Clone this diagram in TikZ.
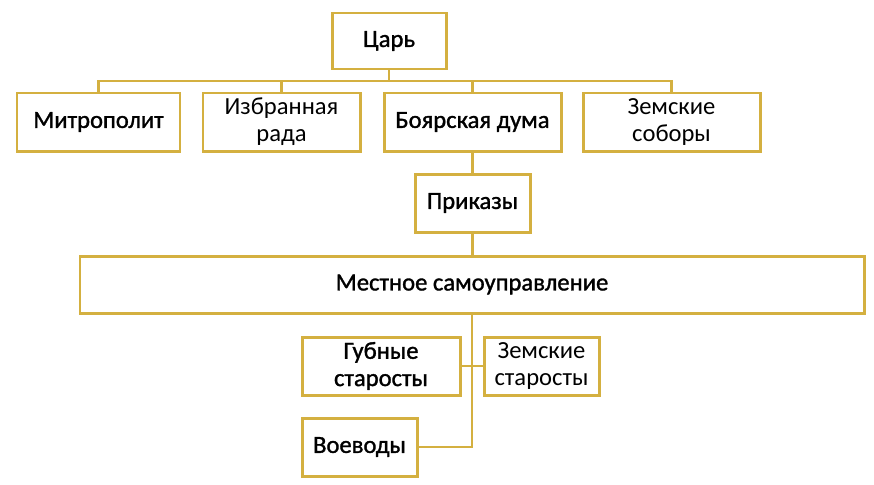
\documentclass[tikz,border=0pt]{standalone}
\usepackage{fontspec}
\setmainfont{Carlito}
\newfontfamily\heavyfont[FakeBold=1.3]{Carlito}
\usepackage{xcolor}
\usetikzlibrary{positioning}
\definecolor{gold}{RGB}{212,176,64}

\begin{document}
\begin{tikzpicture}[
    x=0.02cm, y=-0.02cm,
    box/.style={rectangle, draw=gold, line width=1.7pt, fill=white, align=center, inner sep=2pt, minimum height=58*0.02cm, font=\fontsize{14}{15.5}\selectfont},
    heavy/.style={box, font=\fontsize{14}{15.5}\selectfont\heavyfont},
    link/.style={draw=gold, line width=1.5pt},
]
\useasboundingbox (0,0) rectangle (874,484);

\node[heavy, minimum width=114*0.02cm, minimum height=56*0.02cm] (tsar) at (389,41) {Царь};
\node[heavy, minimum width=163*0.02cm] (metro) at (98.5,122) {Митрополит};
\node[box, minimum width=157*0.02cm] (rada) at (281.5,122) {Избранная\\рада};
\node[heavy, minimum width=177*0.02cm] (duma) at (472.5,122) {Боярская дума};
\node[box, minimum width=177*0.02cm] (sobory) at (671.5,122) {Земские\\соборы};
\node[heavy, minimum width=115*0.02cm] (prikazy) at (472.5,203) {Приказы};
\node[heavy, minimum width=784*0.02cm, minimum height=57*0.02cm] (mestnoe) at (472,284.5) {Местное самоуправление};
\node[heavy, minimum width=158*0.02cm] (gubnye) at (381,366) {Губные\\старосты};
\node[box, minimum width=115*0.02cm] (zemstar) at (541.5,366) {Земские\\старосты};
\node[heavy, minimum width=115*0.02cm] (voevody) at (359.5,447) {Воеводы};

\coordinate (bus) at (0,81);

\draw[link] (tsar.south) -- (tsar.south |- bus);
\draw[link] (metro.north) |- (bus -| sobory.north) -- (sobory.north);
\draw[link] (rada.north) -- (rada.north |- bus);
\draw[link] (duma.north) -- (duma.north |- bus);
\draw[link] (duma) -- (prikazy);
\draw[link] (prikazy.south) -- (prikazy.south |- mestnoe.north);
\draw[link] (mestnoe.south) |- (voevody.east);
\draw[link] (gubnye.east) -- (zemstar.west);
\end{tikzpicture}
\end{document}
